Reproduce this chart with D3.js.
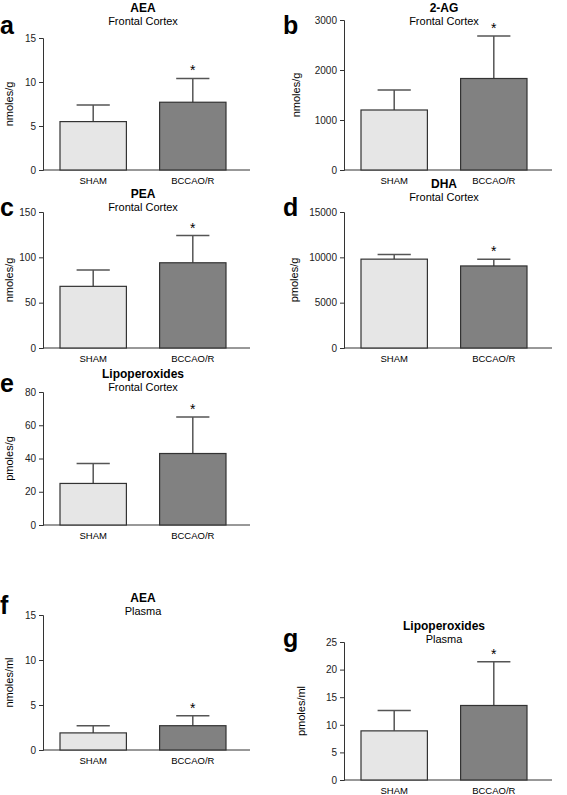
<!DOCTYPE html>
<html><head><meta charset="utf-8">
<script src="https://cdn.jsdelivr.net/npm/d3@7"></script>
<style>body{margin:0;background:#fff}svg{font-family:"Liberation Sans",Arial,sans-serif}</style>
</head><body><svg id="c" width="567" height="795"></svg>
<script>
const groups = ["SHAM","BCCAO/R"];
const letters = ["a","b","c","d","e","f","g"];
const titles = ["AEA","2-AG","PEA","DHA","Lipoperoxides","AEA","Lipoperoxides"];
const subtitles = ["Frontal Cortex","Frontal Cortex","Frontal Cortex","Frontal Cortex","Frontal Cortex","Plasma","Plasma"];
const units = ["nmoles/g","nmoles/g","nmoles/g","pmoles/g","pmoles/g","nmoles/ml","pmoles/ml"];
const yMax = [15,3000,150,15000,80,15,25];
const yTicks = [[0,5,10,15],[0,1000,2000,3000],[0,50,100,150],[0,5000,10000,15000],[0,20,40,60,80],[0,5,10,15],[0,5,10,15,20,25]];
const means = [[5.5,7.7],[1200,1830],[68,94],[9800,9050],[25,43],[1.9,2.7],[8.9,13.5]];
const errs = [[1.9,2.7],[400,850],[18,30],[500,750],[12,22],[0.8,1.1],[3.7,7.9]];
// layout: [axisX, axisEndX, yTop, yZero, titleY, letterY, letterX, unitOffset]
const layout = [
 [43,250,38,170,12,34,0,30],
 [344,552,20,170,12,34,283,44],
 [43,250,212,348,198,216,0,30],
 [344,552,212,348,188,216,283,46],
 [43,250,392,525,378,392,0,30],
 [43,250,615,750,602,614,0,30],
 [344,552,642,780,630,647,283,39]
];
const svg = d3.select("#c");
letters.forEach((L,i)=>{
  const [ax,aex,yt,y0,ty,ly,lx,uo]=layout[i];
  const g=svg.append("g");
  const y=d3.scaleLinear().domain([0,yMax[i]]).range([y0,yt]);
  const x=d3.scaleBand().domain(groups).range([ax+17,ax+183]).paddingInner(1/3).paddingOuter(0);
  g.append("g").attr("transform",`translate(${ax},0)`)
   .call(d3.axisLeft(y).tickValues(yTicks[i]).tickSize(4).tickFormat(d3.format("d")))
   .call(s=>{s.select(".domain").attr("stroke","#333");s.selectAll("line").attr("stroke","#333");s.selectAll("text").attr("font-size",10).attr("fill","#222");});
  g.append("line").attr("x1",ax).attr("x2",aex).attr("y1",y0).attr("y2",y0).attr("stroke","#333");
  groups.forEach((gr,j)=>{
    const bx=x(gr),bw=x.bandwidth(),cx=bx+bw/2;
    const top=y(means[i][j]+errs[i][j]);
    g.append("line").attr("x1",cx).attr("x2",cx).attr("y1",y(means[i][j])).attr("y2",top).attr("stroke","#555").attr("stroke-width",1.5);
    g.append("line").attr("x1",cx-bw/4).attr("x2",cx+bw/4).attr("y1",top).attr("y2",top).attr("stroke","#555").attr("stroke-width",1.5);
    g.append("rect").attr("x",bx).attr("y",y(means[i][j])).attr("width",bw).attr("height",y0-y(means[i][j]))
     .attr("fill",j?"#818181":"#e6e6e6").attr("stroke","#333").attr("stroke-width",1.2);
    g.append("text").attr("x",cx).attr("y",y0+14).attr("text-anchor","middle").attr("font-size",9.5).text(gr);
    if(j===1) g.append("text").attr("x",cx).attr("y",top-3).attr("text-anchor","middle").attr("font-size",14).text("*");
  });
  const mid=(x(groups[0])+x(groups[1])+x.bandwidth())/2;
  g.append("text").attr("x",mid).attr("y",ty).attr("text-anchor","middle").attr("font-weight","bold").attr("font-size",12).text(titles[i]);
  g.append("text").attr("x",mid).attr("y",ty+13).attr("text-anchor","middle").attr("font-size",11).text(subtitles[i]);
  g.append("text").attr("x",lx).attr("y",ly).attr("font-weight","bold").attr("font-size",25).text(L);
  g.append("text").attr("transform",`translate(${ax-uo},${(yt+y0)/2}) rotate(-90)`).attr("text-anchor","middle").attr("font-size",11).text(units[i]);
});
</script></body></html>
